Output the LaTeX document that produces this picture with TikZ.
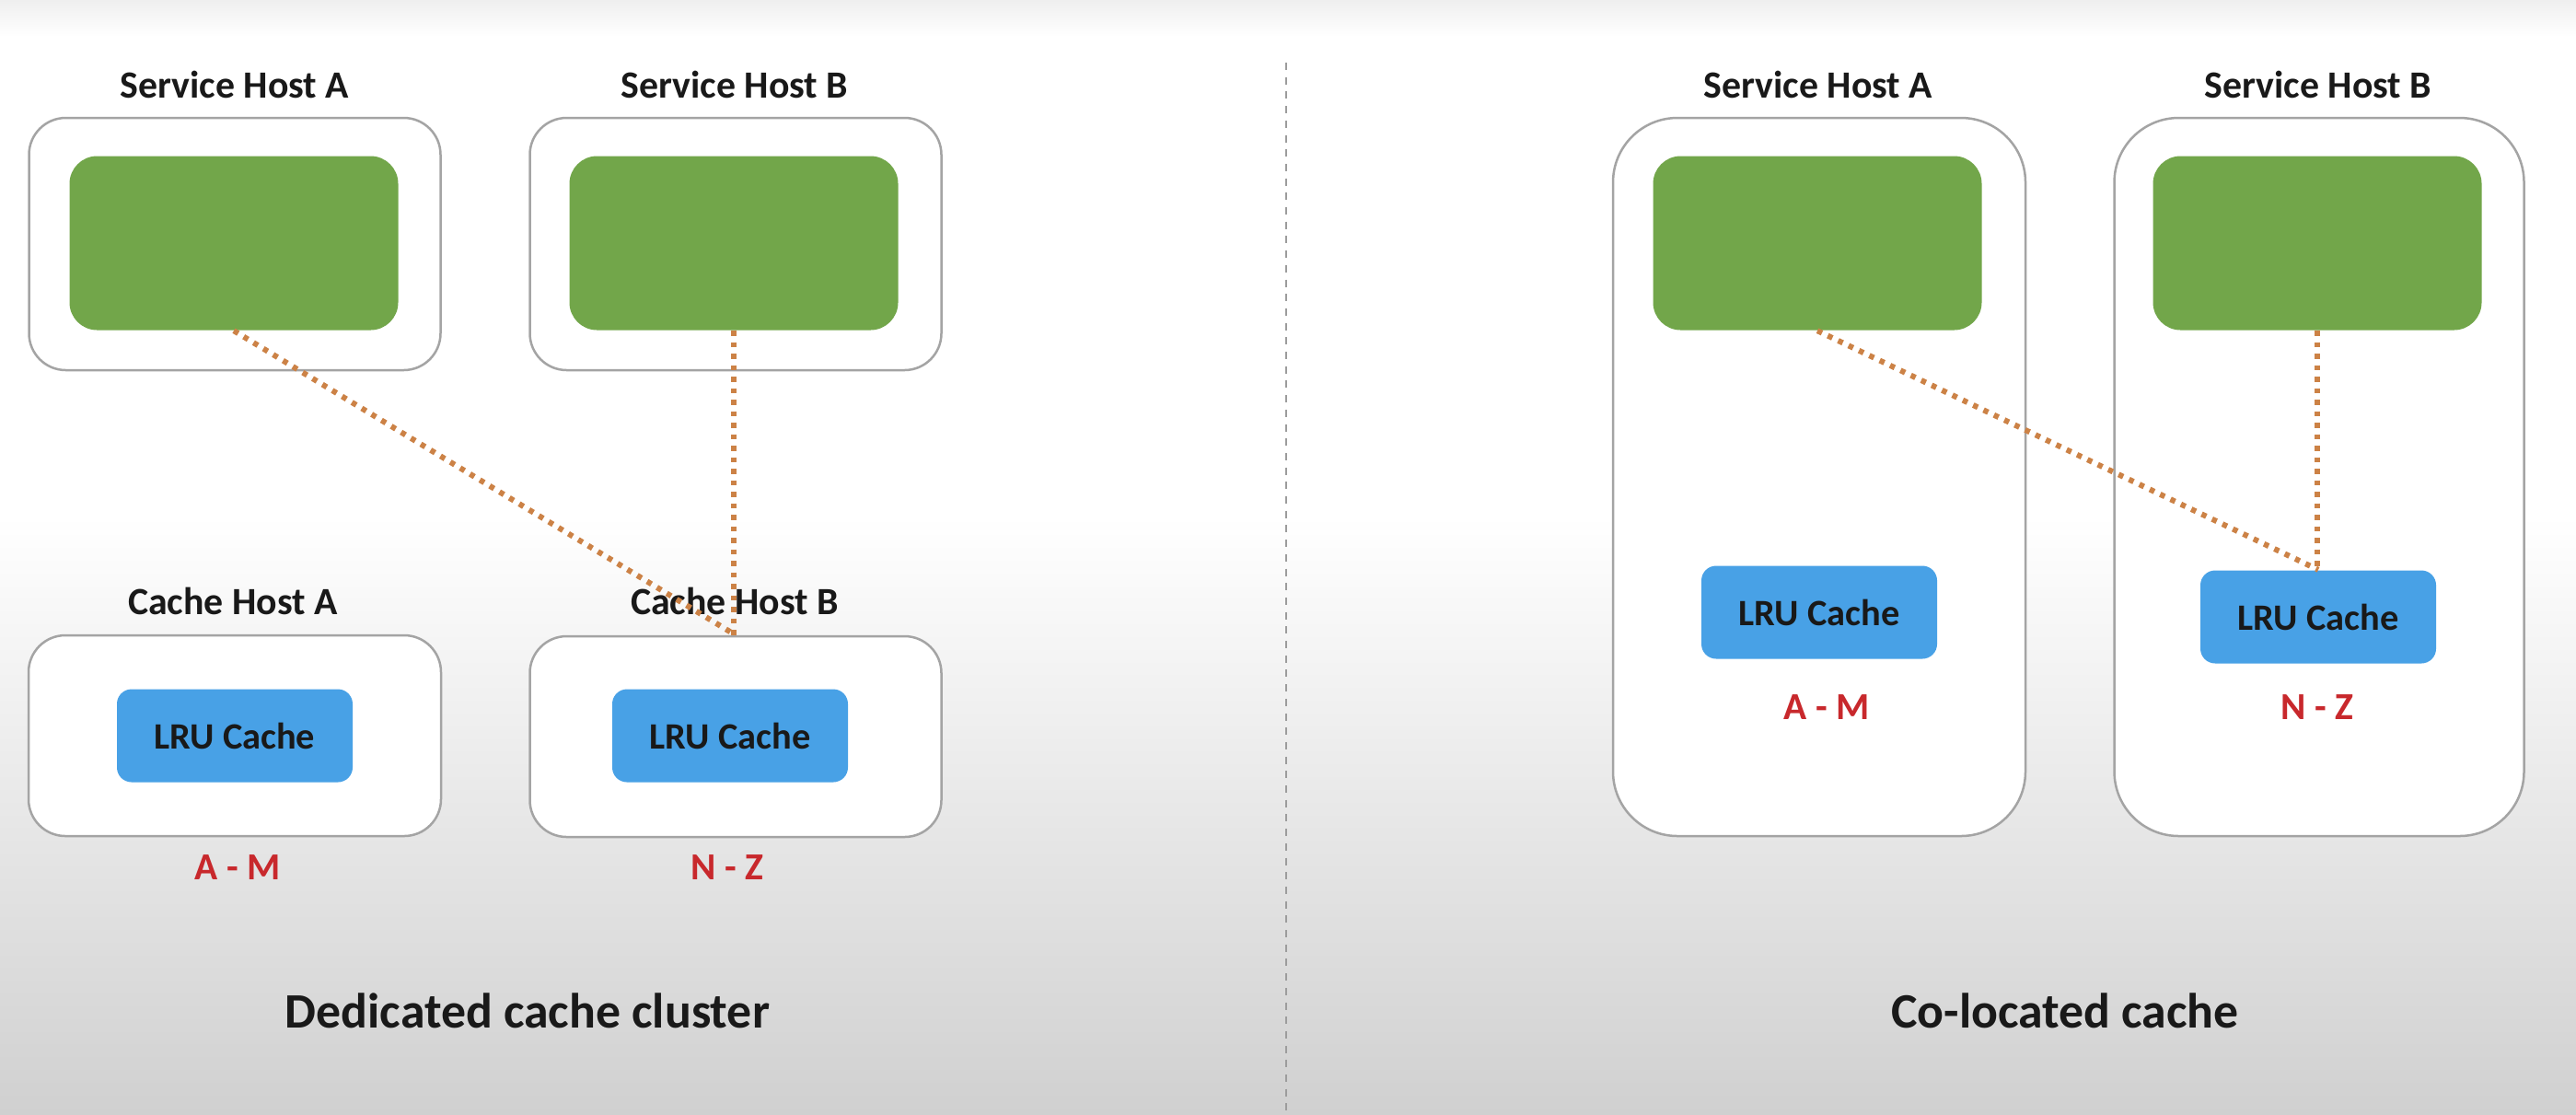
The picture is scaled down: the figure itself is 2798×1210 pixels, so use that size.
\documentclass[tikz,border=0pt]{standalone}
\usepackage{fontspec}
\setmainfont{Carlito}
\definecolor{hostgreen}{HTML}{72A64A}
\definecolor{cacheblue}{HTML}{48A1E6}
\definecolor{rangered}{HTML}{C8282C}
\definecolor{linkorange}{HTML}{CC8246}
\definecolor{boxgray}{HTML}{A4A4A4}
\definecolor{divgray}{HTML}{9C9C9C}
\definecolor{bgbottom}{HTML}{D0D0D0}
\definecolor{bgtop}{HTML}{EFEFEF}
\begin{document}
\begin{tikzpicture}[x=0.1mm,y=-0.1mm,
  hostbox/.style={draw=boxgray,line width=0.25mm,fill=white,rounded corners=4mm,inner sep=0pt},
  tallbox/.style={draw=boxgray,line width=0.25mm,fill=white,rounded corners=7mm,inner sep=0pt},
  svcbox/.style={fill=hostgreen,rounded corners=3mm,inner sep=0pt,minimum width=35.7mm,minimum height=18.9mm},
  lrubox/.style={fill=cacheblue,rounded corners=1.6mm,inner sep=0pt,minimum width=25.6mm,minimum height=10.1mm,font=\bfseries\fontsize{11.5}{13}\selectfont,text=black!90},
  hostlabel/.style={font=\bfseries\fontsize{11.9}{14}\selectfont,text=black!90,inner sep=0pt},
  rangelabel/.style={font=\bfseries\fontsize{11.8}{14}\selectfont,text=rangered,inner sep=0pt},
  titlelabel/.style={font=\bfseries\fontsize{15.3}{18}\selectfont,text=black!90,inner sep=0pt},
  link/.style={draw=linkorange,line width=0.6mm,dash pattern=on 0.55mm off 0.7mm},
  divider/.style={draw=divgray,line width=0.25mm,dash pattern=on 0.8mm off 0.77mm}]
% background
\useasboundingbox (0,0) rectangle (2798,1210);
\fill[white] (0,0) rectangle (2798,1210);
\shade[top color=bgtop,bottom color=white] (0,0) rectangle (2798,40);
\shade[top color=white,bottom color=bgbottom] (0,560) rectangle (2798,1210);
% divider
\coordinate (divtop) at (1397,68);
\coordinate (divbot) at (1397,1210);
\draw[divider] (divtop) -- (divbot);

% ---------- left: dedicated cache cluster ----------
\node[hostbox,minimum width=44.7mm,minimum height=27.4mm] (lsa) at (255,265) {};
\node[hostbox,minimum width=44.7mm,minimum height=27.4mm] (lsb) at (799,265) {};
\node[svcbox] (lga) at (254,264) {};
\node[svcbox] (lgb) at (797,264) {};
\node[hostlabel] (lsal) at (255,92) {Service Host A};
\node[hostlabel] (lsbl) at (798,92) {Service Host B};

\node[hostbox,minimum width=44.8mm,minimum height=21.8mm] (lca) at (255,799) {};
\node[hostbox,minimum width=44.7mm,minimum height=21.8mm] (lcb) at (799,800) {};
\node[lrubox] (lla) at (255,799) {LRU Cache};
\node[lrubox] (llb) at (793,799) {LRU Cache};
\node[hostlabel] (lcal) at (253,653) {Cache Host A};
\node[hostlabel] (lcbl) at (798,653) {Cache Host B};
\node[rangelabel] (lram) at (258,942) {A - M};
\node[rangelabel] (lrnz) at (790,942) {N - Z};
\node[titlelabel] (ltitle) at (573,1098) {Dedicated cache cluster};

\draw[link] (lga.south) -- (lcb.north);
\draw[link] (lgb.south) -- (lgb.south |- lcb.north);

% ---------- right: co-located cache ----------
\node[tallbox,minimum width=44.8mm,minimum height=78mm] (rsa) at (1976,518) {};
\node[tallbox,minimum width=44.5mm,minimum height=78mm] (rsb) at (2519,518) {};
\node[svcbox] (rga) at (1974,264) {};
\node[svcbox] (rgb) at (2517,264) {};
\node[lrubox] (rla) at (1976,665) {LRU Cache};
\node[lrubox] (rlb) at (2518,670) {LRU Cache};
\node[hostlabel] (rsal) at (1975,92) {Service Host A};
\node[hostlabel] (rsbl) at (2518,92) {Service Host B};
\node[rangelabel] (rram) at (1984,768) {A - M};
\node[rangelabel] (rrnz) at (2517,768) {N - Z};
\node[titlelabel] (rtitle) at (2243,1098) {Co-located cache};

\draw[link] (rga.south) -- (rlb.north);
\draw[link] (rgb.south) -- (rgb.south |- rlb.north);
\end{tikzpicture}
\end{document}
